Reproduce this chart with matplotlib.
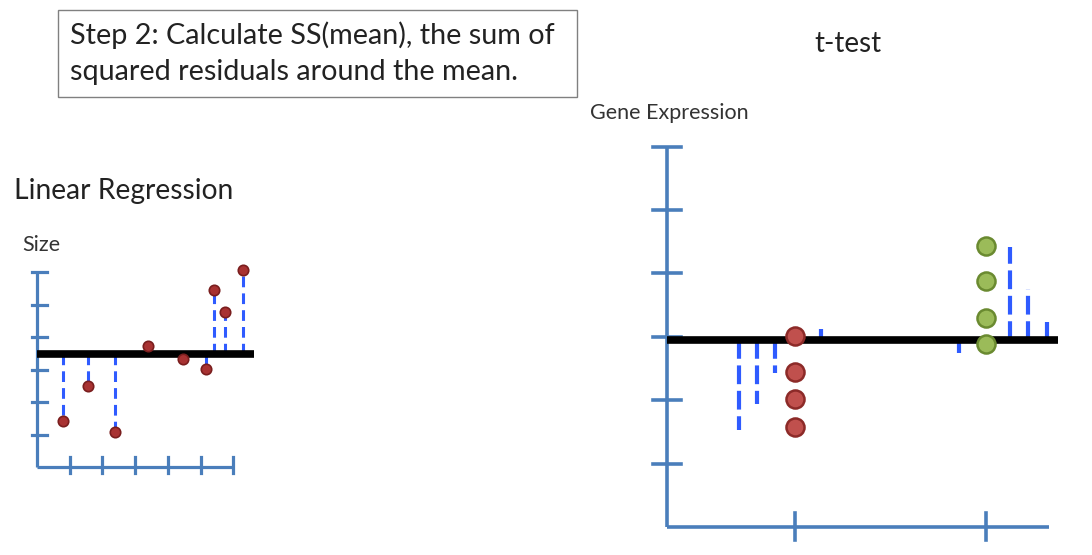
import matplotlib
matplotlib.use("Agg")
import matplotlib.pyplot as plt
from matplotlib.patches import Rectangle
import numpy as np

# left panel: linear regression (size values)
lr_x = [0.8, 1.56, 2.39, 3.39, 4.46, 5.17, 5.41, 5.75, 6.3]
lr_y = [1.42, 2.49, 1.08, 3.72, 3.32, 3.02, 5.45, 4.77, 6.07]
lr_yticks = [1, 2, 3, 4, 5, 6]
lr_xticks = [1, 2, 3, 4, 5, 6]

# right panel: t-test (gene expression)
red_y = [3.01, 2.44, 2.02, 1.58]
green_y = [4.43, 3.88, 3.30, 2.89]
# residual dashes as drawn beside the dots (x position, end value)
red_res_x = [1.136, 0.895, 0.80, 0.707]
red_res_end = [3.12, 2.43, 1.94, 1.53]
green_res_x = [2.126, 2.22, 2.32, 1.859]
green_res_end = [4.42, 3.75, 3.24, 2.75]
tt_yticks = [1, 2, 3, 4, 5, 6]
tt_xticks = [1, 2]

W, H = 1092, 555
fig = plt.figure(figsize=(W / 100, H / 100), dpi=100)

AXIS_BLUE = "#4a7ebb"
DASH_BLUE = "#2f5bff"
RED = "#c0504d"
RED_EDGE = "#8c2a28"
GREEN = "#9bbb59"
GREEN_EDGE = "#6a8a30"


def px_axes(x0, x1, y0, y1):
    # axes placed by pixel box (y measured from top)
    return fig.add_axes([x0 / W, 1 - y1 / H, (x1 - x0) / W, (y1 - y0) / H])


# ---- Linear regression panel ----
ax1 = px_axes(37 - 0.5 * 32.7, 37 + 7.0 * 32.7, 467 - 6.5 * 32.5, 467 + 0.5 * 32.5)
ax1.set_xlim(-0.5, 7.0)
ax1.set_ylim(-0.5, 6.5)
ax1.axis("off")
mean1 = np.mean(lr_y)
ax1.plot([0, 0], [0, 6], color=AXIS_BLUE, lw=2.3, solid_capstyle="butt")
ax1.plot([0, 6], [0, 0], color=AXIS_BLUE, lw=2.3, solid_capstyle="butt")
for t in lr_yticks:
    ax1.plot([-0.16, 0.3], [t, t], color=AXIS_BLUE, lw=2.3)
for t in lr_xticks:
    ax1.plot([t, t], [-0.17, 0.3], color=AXIS_BLUE, lw=2.3)
for x, y in zip(lr_x, lr_y):
    ax1.plot([x, x], [mean1, y], color=DASH_BLUE, lw=2.2, dashes=(3.5, 2))
ax1.plot([0, 6.64], [mean1, mean1], color="black", lw=5.5, solid_capstyle="butt")
ax1.plot(lr_x, lr_y, "o", ms=7.5, mfc="#a83232", mec="#7a1e1e", mew=1.2, zorder=5)

# ---- t-test panel ----
ax2 = px_axes(604 + 0.2 * 191, 604 + 2.5 * 191, 527 - 6.3 * 63.4, 527 + 0.3 * 63.4)
ax2.set_xlim(0.2, 2.5)
ax2.set_ylim(-0.3, 6.3)
ax2.axis("off")
mean2 = np.mean(red_y + green_y)
x0 = 0.33
ax2.plot([x0, x0], [0, 6], color=AXIS_BLUE, lw=2.6, solid_capstyle="butt")
ax2.plot([x0, 2.33], [0, 0], color=AXIS_BLUE, lw=2.6, solid_capstyle="butt")
for t in tt_yticks:
    ax2.plot([x0 - 0.075, x0 + 0.075], [t, t], color=AXIS_BLUE, lw=2.6)
for t in tt_xticks:
    ax2.plot([t, t], [-0.21, 0.22], color=AXIS_BLUE, lw=2.6)
for x, y in zip(red_res_x + green_res_x, red_res_end + green_res_end):
    ax2.plot([x, x], [mean2, y], color=DASH_BLUE, lw=3.0, dashes=(4.5, 1.6))
ax2.plot([x0, 2.377], [mean2, mean2], color="black", lw=5.5, solid_capstyle="butt")
ax2.plot([1] * len(red_y), red_y, "o", ms=13, mfc=RED, mec=RED_EDGE, mew=1.8, zorder=5)
ax2.plot([2] * len(green_y), green_y, "o", ms=13, mfc=GREEN, mec=GREEN_EDGE, mew=1.8, zorder=5)

# ---- texts ----
font = ["Lato", "DejaVu Sans"]
fig.patches.append(Rectangle((58 / W, 1 - 97 / H), (577 - 58) / W, (97 - 10) / H,
                             transform=fig.transFigure, fill=False,
                             edgecolor="#808080", lw=1.0))
fig.text(70 / W, 1 - 35 / H, "Step 2: Calculate SS(mean), the sum of",
         fontsize=20.7, family=font, va="center", ha="left", color="#222222")
fig.text(70 / W, 1 - 72 / H, "squared residuals around the mean.",
         fontsize=20.7, family=font, va="center", ha="left", color="#222222")
fig.text(848 / W, 1 - 44 / H, "t-test", fontsize=20, family=font,
         ha="center", va="center", color="#222222")
fig.text(590 / W, 1 - 113 / H, "Gene Expression", fontsize=15.5, family=font,
         ha="left", va="center", color="#333333")
fig.text(14 / W, 1 - 191 / H, "Linear Regression", fontsize=20.3, family=font,
         ha="left", va="center", color="#222222")
fig.text(22 / W, 1 - 245 / H, "Size", fontsize=15.5, family=font,
         ha="left", va="center", color="#333333")

fig.savefig("out.png", dpi=100)
